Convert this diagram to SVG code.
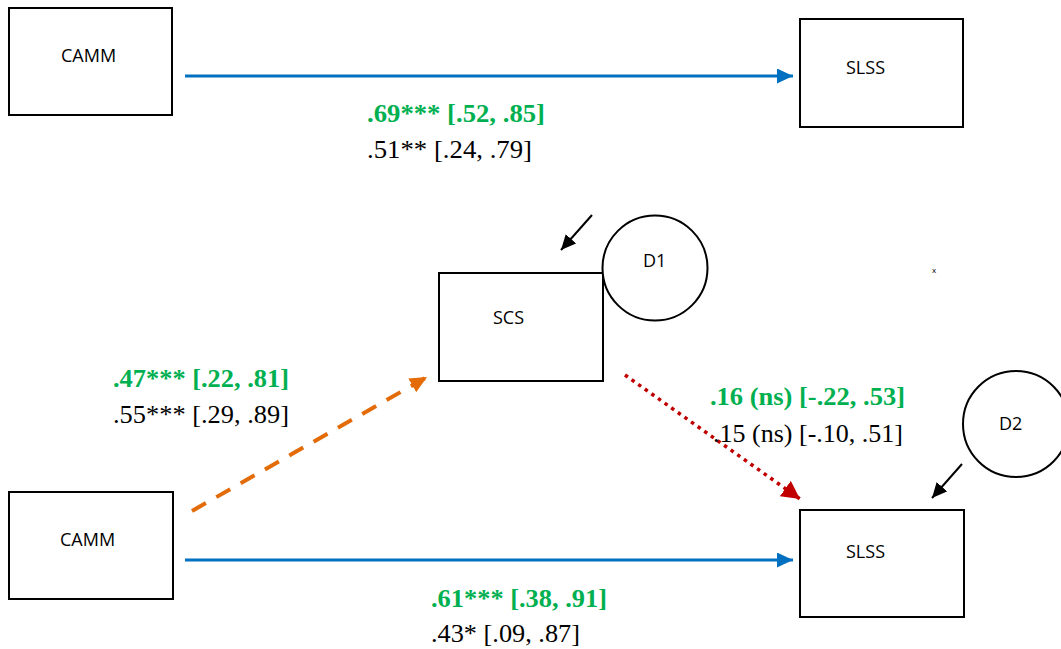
<svg xmlns="http://www.w3.org/2000/svg" width="1061" height="649" viewBox="0 0 1061 649">
<style>
.box{fill:#fff;stroke:#000;stroke-width:2}
.circ{fill:#fff;stroke:#000;stroke-width:2}
.lbl{font-family:'Open Sans','Liberation Sans',sans-serif;font-size:18px;fill:#000}
.g{font-family:'Liberation Serif','Times New Roman',serif;font-size:25px;font-weight:bold;fill:#00B050}
.k{font-family:'Liberation Serif','Times New Roman',serif;font-size:25px;fill:#000}
.blue{stroke:#0070C0;stroke-width:3;fill:none}
.orange{stroke:#E36C09;stroke-width:4;fill:none;stroke-dasharray:16 12}
.red{stroke:#C00000;stroke-width:3.5;fill:none;stroke-dasharray:3.5 4.6}
.blk{stroke:#000;stroke-width:2;fill:none}
</style>
<defs>
<marker id="aBlue" markerUnits="userSpaceOnUse" markerWidth="17" markerHeight="16" refX="16" refY="7.5" orient="auto"><path d="M0,0 L16,7.5 L0,15 z" fill="#0070C0"/></marker>
<marker id="aOrange" markerUnits="userSpaceOnUse" markerWidth="18" markerHeight="18" refX="17" refY="8" orient="auto"><path d="M0,0 L17,8 L0,16 z" fill="#E36C09"/></marker>
<marker id="aRed" markerUnits="userSpaceOnUse" markerWidth="19" markerHeight="20" refX="18" refY="9.5" orient="auto"><path d="M0,0 L18,9.5 L0,19 z" fill="#C00000"/></marker>
<marker id="aBlack" markerUnits="userSpaceOnUse" markerWidth="16" markerHeight="15" refX="15" refY="7" orient="auto"><path d="M0,0 L15,7 L0,14 z" fill="#000"/></marker>
</defs>
<rect width="1061" height="649" fill="#fff"/>

<g id="connectors">
<line class="blue" x1="185" y1="76" x2="793" y2="76" marker-end="url(#aBlue)"/>
<line class="blue" x1="185" y1="560" x2="793" y2="560" marker-end="url(#aBlue)"/>
<line class="orange" x1="192" y1="511" x2="427" y2="377" marker-end="url(#aOrange)"/>
<line class="red" x1="625" y1="375" x2="800" y2="499" marker-end="url(#aRed)"/>
<line class="blk" x1="592" y1="215" x2="561" y2="250" marker-end="url(#aBlack)"/>
<line class="blk" x1="962" y1="464" x2="932" y2="498" marker-end="url(#aBlack)"/>
</g>

<g id="camm-top">
<rect class="box" x="9" y="8" width="163" height="107"/>
<text class="lbl" x="61" y="62">CAMM</text>
</g>
<g id="slss-top">
<rect class="box" x="800" y="19" width="163" height="108"/>
<text class="lbl" x="846" y="74">SLSS</text>
</g>
<g id="scs">
<rect class="box" x="439" y="273" width="164" height="108"/>
<text class="lbl" x="493" y="324">SCS</text>
</g>
<g id="d1">
<circle class="circ" cx="655" cy="268" r="52.5"/>
<text class="lbl" x="643" y="267">D1</text>
</g>
<g id="d2">
<circle class="circ" cx="1016" cy="424" r="53"/>
<text class="lbl" x="999" y="430">D2</text>
</g>
<g id="camm-bottom">
<rect class="box" x="9" y="492" width="164" height="107"/>
<text class="lbl" x="60" y="546">CAMM</text>
</g>
<g id="slss-bottom">
<rect class="box" x="800" y="510" width="164" height="107"/>
<text class="lbl" x="846" y="558">SLSS</text>
</g>

<g id="labels">
<text class="g" x="367" y="122" textLength="178" lengthAdjust="spacingAndGlyphs">.69*** [.52, .85]</text>
<text class="k" x="367" y="158" textLength="165" lengthAdjust="spacingAndGlyphs">.51** [.24, .79]</text>
<text class="g" x="113" y="387" textLength="176" lengthAdjust="spacingAndGlyphs">.47*** [.22, .81]</text>
<text class="k" x="113" y="423" textLength="176" lengthAdjust="spacingAndGlyphs">.55*** [.29, .89]</text>
<text class="g" x="710" y="405" textLength="195" lengthAdjust="spacingAndGlyphs">.16 (ns) [-.22, .53]</text>
<text class="k" x="713" y="442" textLength="190" lengthAdjust="spacingAndGlyphs">.15 (ns) [-.10, .51]</text>
<text class="g" x="431" y="607" textLength="176" lengthAdjust="spacingAndGlyphs">.61*** [.38, .91]</text>
<text class="k" x="431" y="642" textLength="149" lengthAdjust="spacingAndGlyphs">.43* [.09, .87]</text>
<text x="932" y="273" font-family="Open Sans, sans-serif" font-size="8" fill="#000">x</text>
</g>
</svg>
